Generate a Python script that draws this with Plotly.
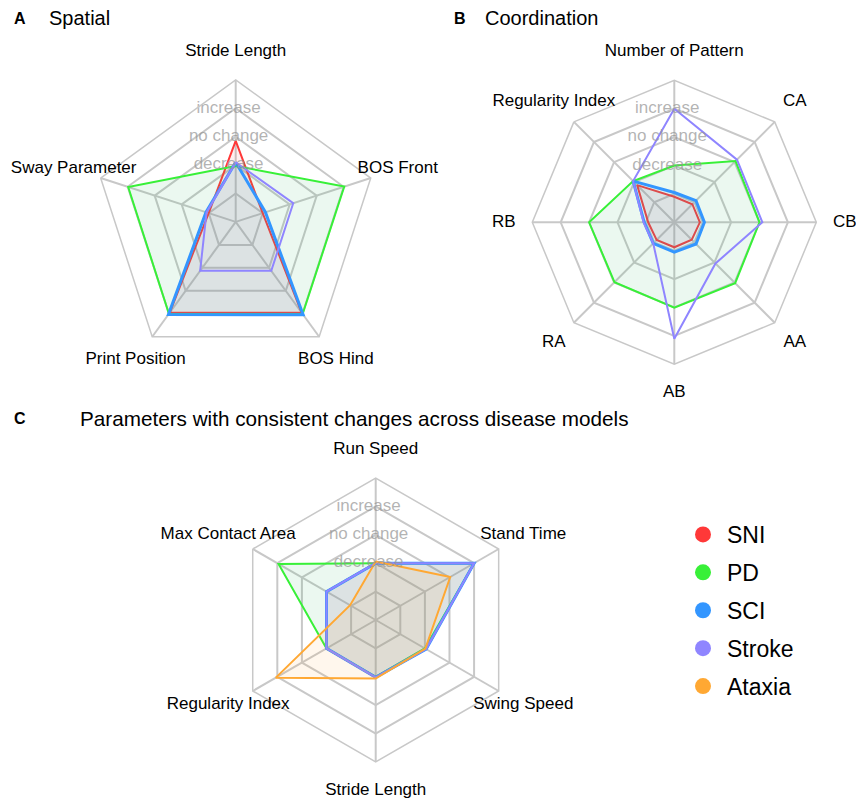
import plotly.graph_objects as go

# ---------------- data ----------------
groups = ["SNI", "PD", "SCI", "Stroke", "Ataxia"]
group_colors = ["rgb(255,56,56)", "rgb(56,240,56)", "rgb(51,150,255)", "rgb(143,133,255)", "rgb(255,168,51)"]
group_fills = ["rgba(255,56,56,0.08)", "rgba(60,190,110,0.1)", "rgba(51,150,255,0.08)",
               None, "rgba(255,168,51,0.09)"]
group_widths = [2, 2, 3, 2, 2]

level_values = [2, 3, 4]
level_labels = ["decrease", "no change", "increase"]

# Panel A - Spatial
A_cats = ["Stride Length", "BOS Front", "BOS Hind", "Print Position", "Sway Parameter"]
A_SNI = [2.85, 1.0, 3.95, 3.95, 1.0]
A_PD = [1.97, 4.02, 4.01, 4.0, 3.98]
A_SCI = [2.1, 1.1, 4.04, 4.03, 1.1]
A_Stroke = [2.1, 2.13, 2.13, 2.13, 1.08]

# Panel B - Coordination
B_cats = ["Number of Pattern", "CA", "CB", "AA", "AB", "RA", "RB", "Regularity Index"]
B_SNI = [0.9, 0.9, 0.9, 0.87, 0.88, 0.88, 0.92, 1.85]
B_PD = [2.0, 3.05, 3.0, 3.03, 3.01, 2.98, 3.0, 2.05]
B_SCI = [1.05, 1.08, 1.06, 1.08, 1.05, 1.05, 1.06, 2.05]
B_Stroke = [4.0, 3.12, 3.1, 2.05, 4.1, 1.05, 1.08, 2.05]

# Panel C - consistent changes
C_cats = ["Run Speed", "Stand Time", "Swing Speed", "Stride Length", "Regularity Index", "Max Contact Area"]
C_SNI = [2.0, 4.0, 2.05, 2.02, 2.0, 2.0]
C_PD = [2.0, 4.0, 2.0, 2.0, 2.0, 3.95]
C_SCI = [2.0, 4.0, 2.05, 2.02, 2.0, 2.0]
C_Stroke = [2.0, 4.0, 2.05, 2.02, 2.0, 2.0]
C_Ataxia = [2.06, 3.03, 2.02, 2.06, 4.06, 1.04]

# ---------------- styling ----------------
FONT = "Liberation Sans, Arial, sans-serif"
GRID = "rgb(200,200,200)"
LEVEL_COLOR = "rgba(150,150,150,0.72)"
W, H = 856, 801
R_MAX = 5          # outer ring of the chart
R_LABEL = 6        # radius at which the axis names sit
RAD = 142          # pixel radius of the outer ring
NBSP = "\u00a0"

fig = go.Figure()


def add_panel(subplot, label_subplot, cats, series):
    for name, vals in series:
        i = groups.index(name)
        fc = group_fills[i]
        fig.add_trace(go.Scatterpolar(
            r=vals + [vals[0]], theta=cats + [cats[0]], mode="lines",
            line=dict(color=group_colors[i], width=group_widths[i]),
            fill="toself" if fc else "none", fillcolor=fc,
            subplot=subplot, showlegend=False, name=name, hoverinfo="skip"))
    fig.add_trace(go.Scatterpolar(
        r=level_values, theta=[cats[0]] * len(level_values), mode="text",
        text=[t + NBSP * 3 for t in level_labels], textposition="middle center",
        textfont=dict(family=FONT, size=17, color=LEVEL_COLOR),
        subplot=subplot, showlegend=False, hoverinfo="skip"))
    fig.add_trace(go.Scatterpolar(
        r=[R_LABEL] * len(cats), theta=cats, mode="text", text=cats,
        textposition="middle center", cliponaxis=False,
        textfont=dict(family=FONT, size=17, color="black"),
        subplot=label_subplot, showlegend=False, hoverinfo="skip"))


add_panel("polar", "polar4", A_cats, [("SNI", A_SNI), ("PD", A_PD), ("SCI", A_SCI), ("Stroke", A_Stroke)])
add_panel("polar2", "polar5", B_cats, [("SNI", B_SNI), ("PD", B_PD), ("SCI", B_SCI), ("Stroke", B_Stroke)])
add_panel("polar3", "polar6", C_cats, [("SNI", C_SNI), ("PD", C_PD), ("SCI", C_SCI), ("Stroke", C_Stroke),
                                       ("Ataxia", C_Ataxia)])

# legend entries
for g, c in zip(groups, group_colors):
    fig.add_trace(go.Scatterpolar(
        r=[None], theta=[C_cats[0]], mode="markers",
        marker=dict(size=20, color=c), name=g, legendgroup=g,
        subplot="polar3", showlegend=True))


def dom(cx, cy, rad):
    return dict(x=[(cx - rad) / W, (cx + rad) / W], y=[1 - (cy + rad) / H, 1 - (cy - rad) / H])


def polar_layout(cx, cy, cats):
    return dict(
        domain=dom(cx, cy, RAD),
        bgcolor="white", gridshape="linear",
        radialaxis=dict(range=[0, R_MAX], dtick=1, tick0=0, showticklabels=False, ticks="",
                        showline=False, gridcolor=GRID, gridwidth=1.5),
        angularaxis=dict(direction="clockwise", rotation=90, categoryorder="array",
                         categoryarray=cats, showticklabels=False, ticks="",
                         showline=True, linecolor=GRID, linewidth=1.5,
                         gridcolor=GRID, gridwidth=1.5),
    )


def label_layout(cx, cy, cats):
    return dict(
        domain=dom(cx, cy, RAD * R_LABEL / R_MAX),
        bgcolor="rgba(0,0,0,0)", gridshape="linear",
        radialaxis=dict(range=[0, R_LABEL], showticklabels=False, ticks="", showline=False,
                        showgrid=False),
        angularaxis=dict(direction="clockwise", rotation=90, categoryorder="array",
                         categoryarray=cats, showticklabels=False, ticks="",
                         showline=False, showgrid=False),
    )


def ann(x, y, text, size, bold=False):
    return dict(x=x / W, y=1 - y / H, xref="paper", yref="paper", xanchor="left", yanchor="middle",
                text=("<b>%s</b>" % text) if bold else text, showarrow=False,
                font=dict(family=FONT, size=size, color="black"))


centers = {"A": (235.7, 221.9), "B": (674.3, 222.3), "C": (375.7, 620.0)}

fig.update_layout(
    width=W, height=H, margin=dict(l=0, r=0, t=0, b=0),
    paper_bgcolor="white", plot_bgcolor="white",
    font=dict(family=FONT, color="black"),
    polar=polar_layout(*centers["A"], A_cats),
    polar2=polar_layout(*centers["B"], B_cats),
    polar3=polar_layout(*centers["C"], C_cats),
    polar4=label_layout(*centers["A"], A_cats),
    polar5=label_layout(*centers["B"], B_cats),
    polar6=label_layout(*centers["C"], C_cats),
    legend=dict(x=679 / W, y=1 - 513 / H, xanchor="left", yanchor="top",
                font=dict(family=FONT, size=23, color="black"),
                itemsizing="trace", itemwidth=38, tracegroupgap=5, bgcolor="rgba(0,0,0,0)"),
    annotations=[
        ann(11.7, 18, "A", 16, bold=True),
        ann(47, 18, "Spatial", 20),
        ann(451.7, 18, "B", 16, bold=True),
        ann(483, 18, "Coordination", 20),
        ann(11.7, 418, "C", 16, bold=True),
        ann(78, 418, "Parameters with consistent changes across disease models", 20.7),
    ],
)

fig.write_html("out.html")
